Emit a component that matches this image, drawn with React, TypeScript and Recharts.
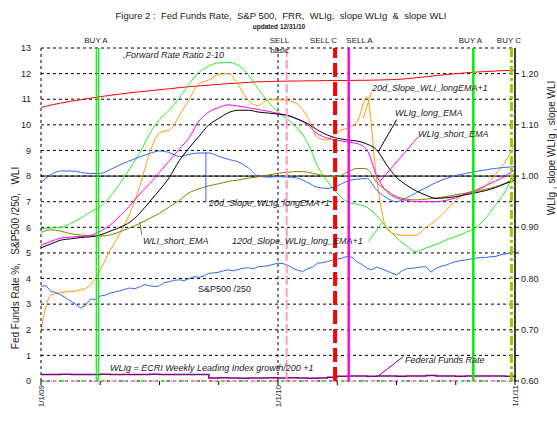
import React from "react";
import { CartesianGrid, Line, LineChart, ReferenceLine, XAxis, YAxis } from "recharts";

// x is months since 1/1/09; left axis carries everything in its own units,
// right axis is the WLIg scale (1.00 on the right == 8 on the left)
const FONT = '"Liberation Sans", Arial, sans-serif';
const INK = "#1c1c1c";

const halfMonths = Array.from({ length: 49 }, (_, i) => i / 2);
const quarterMonths = Array.from({ length: 97 }, (_, i) => i / 4);

const xTicks = [0, 3, 6, 9, 12, 15, 18, 21, 24];
const xTickLabels: Record<number, string> = { 0: "1/1/09", 12: "1/1/10", 24: "1/1/11" };
const leftTicks = [0, 1, 2, 3, 4, 5, 6, 7, 8, 9, 10, 11, 12, 13];
const rightTicks = [0.6, 0.65, 0.7, 0.75, 0.8, 0.85, 0.9, 0.95, 1.0, 1.05, 1.1, 1.15, 1.2];

// BUY A (double), SELL basic, SELL C, SELL A, BUY A, BUY C
const signalMonths = [2.8, 2.92, 12.44, 14.89, 15.58, 21.89, 23.82];

const frr = [
  10.68, 10.77, 10.85, 10.92, 10.98, 11.04, 11.1, 11.15, 11.2, 11.25,
  11.29, 11.33, 11.37, 11.41, 11.45, 11.49, 11.52, 11.55, 11.58, 11.61,
  11.63, 11.66, 11.68, 11.69, 11.7, 11.71, 11.71, 11.72, 11.72, 11.73,
  11.73, 11.73, 11.74, 11.74, 11.75, 11.76, 11.77, 11.8, 11.84, 11.88,
  11.92, 11.96, 12.0, 12.03, 12.06, 12.08, 12.1, 12.12, 12.13,
];
const slope120WLIg = [
  5.95, 5.97, 6.0, 6.15, 6.35, 6.6, 6.81, 7.2, 7.72, 8.3,
  8.9, 9.65, 10.2, 10.58, 11.05, 11.6, 12.05, 12.3, 12.42, 12.44,
  12.32, 11.95, 11.4, 10.9, 10.5, 10.2, 9.85, 9.3, 8.4, 7.8,
  7.33, 7.0, 6.9, 6.78, 6.45, 6.0, 5.6, 5.28, 5.05, 5.2,
  5.33, 5.5, 5.64, 5.8, 5.98, 6.35, 6.85, 7.4, 8.2,
];
const slope20WLI = [
  2.0, 3.35, 3.45, 3.5, 3.55, 3.75, 4.34, 5.1, 5.77, 6.55,
  7.6, 8.9, 9.7, 9.8, 10.35, 11.0, 11.6, 11.75, 11.97, 12.0,
  11.55, 10.95, 10.75, 10.98, 10.98, 10.95, 10.8, 10.3, 9.5, 9.41,
  9.72, 9.87, 10.1, 11.1, 7.85, 5.95, 5.72, 5.68, 5.7, 6.0,
  6.27, 6.65, 7.05, 7.33, 7.43, 7.6, 8.05, 8.55, 9.28,
];
const wligShort = [
  5.3, 5.45, 5.58, 5.62, 5.64, 5.68, 5.85, 6.09, 6.45, 6.85,
  7.3, 7.7, 8.15, 8.6, 9.05, 9.5, 10.15, 10.5, 10.68, 10.78,
  10.73, 10.67, 10.6, 10.53, 10.45, 10.35, 10.22, 10.0, 9.65, 9.48,
  9.4, 9.33, 9.27, 9.02, 8.0, 7.4, 7.15, 7.05, 7.0, 7.0,
  7.0, 7.05, 7.15, 7.3, 7.45, 7.62, 7.8, 8.0, 8.25,
];
const wligLong = [
  5.2, 5.35, 5.5, 5.55, 5.6, 5.63, 5.7, 5.85, 6.0, 6.2,
  6.55, 7.0, 7.45, 7.95, 8.6, 9.1, 9.55, 10.0, 10.25, 10.48,
  10.57, 10.57, 10.5, 10.46, 10.42, 10.37, 10.22, 10.05, 9.8, 9.6,
  9.48, 9.41, 9.37, 9.25, 9.02, 8.44, 7.95, 7.65, 7.42, 7.25,
  7.13, 7.15, 7.2, 7.27, 7.35, 7.43, 7.55, 7.7, 7.85,
];
const wliShort = [
  5.8, 5.9, 5.85, 5.75, 5.7, 5.67, 5.66, 5.7, 5.83, 5.98,
  6.15, 6.35, 6.55, 6.8, 7.05, 7.35, 7.5, 7.62, 7.7, 7.79,
  7.85, 7.92, 7.97, 8.04, 8.11, 8.15, 8.18, 8.15, 8.07, 8.0,
  7.98, 8.15, 8.3, 8.28, 7.75, 7.45, 7.2, 7.1, 7.07, 7.1,
  7.14, 7.2, 7.27, 7.33, 7.4, 7.48, 7.58, 7.72, 7.92,
];
const slope20WLIg = [
  7.75, 8.05, 8.2, 8.2, 8.15, 8.1, 8.1, 8.25, 8.44, 8.6,
  8.75, 8.88, 8.98, 8.92, 8.76, 8.85, 8.9, 8.9, 8.77, 8.65,
  8.55, 8.32, 8.0, 7.96, 7.98, 7.96, 7.92, 7.75, 7.56, 7.52,
  7.62, 7.8, 7.88, 7.9, 7.45, 7.15, 7.0, 7.15, 7.35, 7.55,
  7.75, 7.9, 8.02, 8.1, 8.18, 8.24, 8.3, 8.34, 8.37,
];
const fedFunds = [
  0.25, 0.25, 0.26, 0.25, 0.25, 0.25, 0.26, 0.25, 0.25, 0.25,
  0.25, 0.26, 0.25, 0.25, 0.25, 0.25, 0.25, 0.12, 0.13, 0.12,
  0.11, 0.12, 0.12, 0.13, 0.12, 0.13, 0.12, 0.11, 0.12, 0.15,
  0.19, 0.2, 0.2, 0.19, 0.2, 0.2, 0.19, 0.2, 0.2, 0.21,
  0.2, 0.2, 0.19, 0.2, 0.2, 0.2, 0.2, 0.19, 0.2,
];
const spx250 = [
  3.7, 3.72, 3.5, 3.45, 3.36,
  3.25, 3.12, 3.0, 2.85,
  2.95, 3.2, 3.18, 3.32,
  3.35, 3.43, 3.48, 3.52,
  3.58, 3.63, 3.6, 3.68,
  3.76, 3.72, 3.68, 3.72,
  3.84, 3.88, 3.93, 3.95,
  3.92, 4.0, 4.07, 4.05,
  4.1, 4.2, 4.22, 4.25,
  4.3, 4.34, 4.3, 4.36,
  4.4, 4.42, 4.38, 4.46,
  4.48, 4.5, 4.55, 4.6,
  4.58, 4.52, 4.4, 4.32,
  4.28, 4.38, 4.45, 4.6,
  4.62, 4.66, 4.72, 4.75,
  4.8, 4.86, 4.83, 4.65,
  4.55, 4.4, 4.34, 4.45,
  4.38, 4.3, 4.22, 4.14,
  4.28, 4.38, 4.4, 4.42,
  4.45, 4.46, 4.25, 4.4,
  4.48, 4.52, 4.6, 4.66,
  4.7, 4.72, 4.76, 4.79,
  4.82, 4.82, 4.85, 4.86,
  4.92, 4.96, 5.0, 5.05,
];

const pts = (xs: number[], ys: number[]) => xs.map((t, i) => ({ t, v: ys[i] }));

const series = [
  { key: "frr", data: pts(halfMonths, frr), color: "#ff0000", type: "monotone" },
  { key: "s120", data: pts(halfMonths, slope120WLIg), color: "#22ee22", type: "monotone" },
  { key: "s20wli", data: pts(halfMonths, slope20WLI), color: "#ff9900", type: "monotone" },
  { key: "s20wlig", data: pts(halfMonths, slope20WLIg), color: "#3366ff", type: "monotone" },
  { key: "wliShort", data: pts(halfMonths, wliShort), color: "#808000", type: "monotone" },
  { key: "wligShort", data: pts(halfMonths, wligShort), color: "#ff00ff", type: "monotone" },
  { key: "wligLong", data: pts(halfMonths, wligLong), color: "#000000", type: "monotone" },
  { key: "spx", data: pts(quarterMonths, spx250), color: "#3366ff", type: "linear" },
  { key: "fed", data: pts(halfMonths, fedFunds), color: "#800080", type: "stepAfter" },
];

const signalStyles = [
  { color: "#00ee00", width: 1.2, dash: undefined },
  { color: "#00ee00", width: 1.2, dash: undefined },
  { color: "#ff99cc", width: 2, dash: "9 3" },
  { color: "#ff0000", width: 4, dash: "14 5" },
  { color: "#ff00ff", width: 2.5, dash: undefined },
  { color: "#00ee00", width: 2.5, dash: undefined },
  { color: "#99cc00", width: 3, dash: "9 3 3 3" },
];

// leader lines from the in-plot labels to their series (month, left units)
const leaders = [
  { color: "#808000", from: [5.01, 6.22], to: [5.1, 5.7] },
  { color: "#3366ff", from: [8.35, 8.93], to: [8.35, 7.0] },
  { color: "#22ee22", from: [17.25, 6.16], to: [16.57, 5.44] },
  { color: "#000000", from: [17.08, 8.96], to: [18.01, 10.2] },
  { color: "#ff00ff", from: [17.16, 7.79], to: [19.1, 9.54] },
  { color: "#ff9900", from: [16.32, 10.26], to: [16.74, 11.3] },
  { color: "#800080", from: [17.08, 0.2], to: [18.34, 0.95] },
];

function XTick({ x, y, payload }: any) {
  const label = xTickLabels[payload.value];
  if (!label) return null;
  return (
    <text x={x} y={y} dy={3} transform={`rotate(-90 ${x} ${y})`} textAnchor="end" fontSize={8} fill={INK} fontFamily={FONT}>
      {label}
    </text>
  );
}

function RightTick({ x, y, payload }: any) {
  const v = payload.value;
  const major = Math.abs(v * 10 - Math.round(v * 10)) < 1e-6;
  if (!major) return null;
  return (
    <text x={x} y={y} dy={3} textAnchor="start" fontSize={9} fill={INK} fontFamily={FONT}>
      {v.toFixed(2)}
    </text>
  );
}

const labelStyle = { fontFamily: FONT, fill: INK, whiteSpace: "pre" as const };

function Overlay() {
  const it = { ...labelStyle, fontStyle: "italic" as const, fontSize: 9 };
  return (
    <svg width={557} height={424} style={{ position: "absolute", left: 0, top: 0, pointerEvents: "none" }}>
      <text x={281} y={19} textAnchor="middle" fontSize={9.5} style={labelStyle}>
        Figure 2 :  Fed Funds Rate,  S&amp;P 500,  FRR,  WLIg,  slope WLIg  &amp;  slope WLI
      </text>
      <text x={279} y={29} textAnchor="middle" fontSize={6.5} fontWeight="bold" style={labelStyle}>
        updated 12/31/10
      </text>
      <g fontSize={8} textAnchor="middle" style={labelStyle}>
        <text x={96} y={43}>BUY A</text>
        <text x={279.5} y={43}>SELL</text>
        <text x={279.5} y={53}>basic</text>
        <text x={323.5} y={43}>SELL C</text>
        <text x={359.5} y={43}>SELL A</text>
        <text x={470.5} y={43}>BUY A</text>
        <text x={509} y={43}>BUY C</text>
      </g>
      <text x={123} y={58} style={it}>,Forward Rate Ratio 2-10</text>
      <text x={372} y={91} style={it}>20d_Slope_WLI_longEMA+1</text>
      <text x={395} y={116} style={it}>WLIg_long_EMA</text>
      <text x={418} y={137} style={it}>WLIg_short_EMA</text>
      <text x={209} y={206} style={it}>20d_Slope_WLIg_longEMA+1</text>
      <text x={143} y={244} style={it}>WLI_short_EMA</text>
      <text x={232} y={244} style={it}>120d_Slope_WLIg_long_EMA+1</text>
      <text x={198} y={292} fontSize={9} style={labelStyle}>S&amp;P500 /250</text>
      <text x={110} y={371} style={it}>WLIg = ECRI Weekly Leading Index growth/200 +1</text>
      <text x={405} y={363} style={it}>Federal Funds Rate</text>
      <text x={19} y={258} transform="rotate(-90 19 258)" textAnchor="middle" fontSize={10} style={labelStyle}>
        Fed Funds Rate %,   S&amp;P500 /250,   WLI
      </text>
      <text x={555} y={148} transform="rotate(-90 555 148)" textAnchor="middle" fontSize={10} style={labelStyle}>
        WLIg , slope WLIg , slope WLI
      </text>
    </svg>
  );
}

export default function App() {
  return (
    <div style={{ position: "absolute", left: 0, top: 0, width: 557, height: 424, background: "#fff" }}>
      <LineChart width={557} height={424} margin={{ top: 48, right: 0, bottom: 0, left: 0 }}>
        <CartesianGrid yAxisId="left" vertical={false} stroke="#000" strokeDasharray="3 3" />
        <XAxis
          dataKey="t"
          type="number"
          domain={[0, 24]}
          ticks={xTicks}
          height={43}
          axisLine={false}
          tickSize={4}
          tickMargin={0}
          tickLine={{ stroke: "#000" }}
          tick={<XTick />}
          allowDuplicatedCategory={false}
        />
        <YAxis
          yAxisId="left"
          domain={[0, 13]}
          ticks={leftTicks}
          width={41}
          axisLine={{ stroke: "#000", strokeDasharray: "3 3" }}
          tickLine={false}
          tickSize={8}
          tickMargin={2}
          tick={{ fontSize: 9, fill: INK, fontFamily: FONT }}
        />
        <YAxis
          yAxisId="right"
          orientation="right"
          domain={[0.6, 1.25]}
          ticks={rightTicks}
          width={42}
          axisLine={{ stroke: "#000", strokeWidth: 1.5 }}
          tickLine={{ stroke: "#000" }}
          tickSize={4}
          tickMargin={2}
          tick={<RightTick />}
          allowDataOverflow
        />
        <ReferenceLine yAxisId="left" x={12} stroke="#000" strokeDasharray="3 3" />
        <ReferenceLine yAxisId="right" y={1.0} stroke="#000" strokeWidth={1} />
        {series.map((s) => (
          <Line
            key={s.key}
            yAxisId="left"
            data={s.data}
            dataKey="v"
            type={s.type as any}
            stroke={s.color}
            strokeWidth={s.key === "fed" ? 1.5 : 1}
            dot={false}
            isAnimationActive={false}
          />
        ))}
        {leaders.map((l, i) => (
          <ReferenceLine
            key={`leader-${i}`}
            yAxisId="left"
            segment={[
              { x: l.from[0], y: l.from[1] },
              { x: l.to[0], y: l.to[1] },
            ]}
            stroke={l.color}
            strokeWidth={1}
          />
        ))}
        <ReferenceLine yAxisId="left" y={0} stroke="#ff99cc" strokeWidth={1.5} strokeDasharray="6 4" />
        <ReferenceLine yAxisId="left" y={0} stroke="#22ee22" strokeWidth={1.5} strokeDasharray="3 17" />
        {signalMonths.map((t, i) => (
          <ReferenceLine
            key={`sig-${i}`}
            yAxisId="left"
            x={t}
            stroke={signalStyles[i].color}
            strokeWidth={signalStyles[i].width}
            strokeDasharray={signalStyles[i].dash}
          />
        ))}
      </LineChart>
      <Overlay />
    </div>
  );
}
